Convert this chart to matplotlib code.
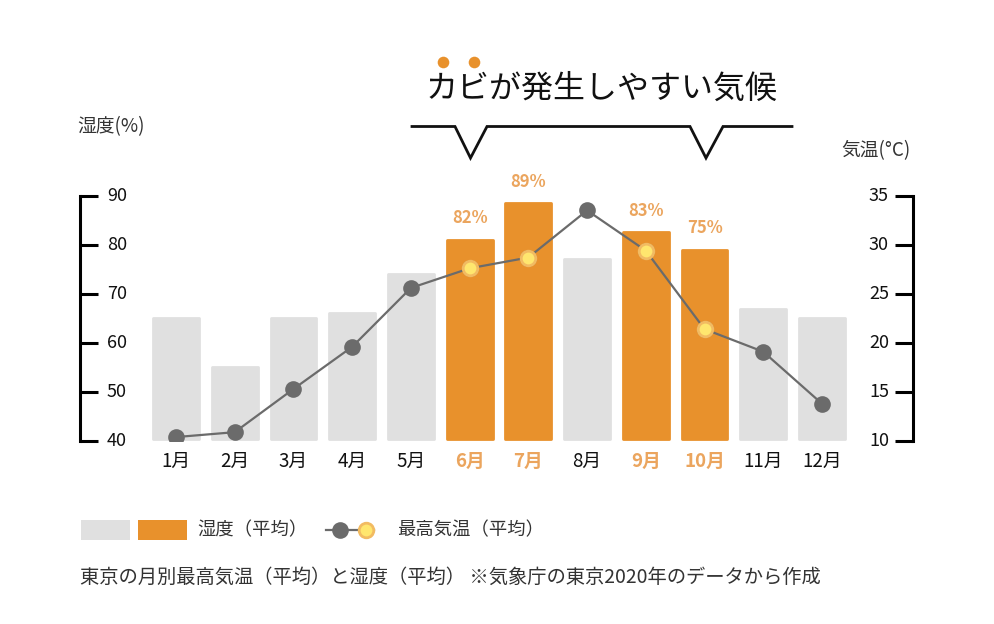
import matplotlib
matplotlib.use("Agg")
import matplotlib.pyplot as plt

plt.rcParams['font.family'] = ['Noto Sans CJK JP', 'DejaVu Sans']

# donnees
mois = ["1月", "2月", "3月", "4月", "5月", "6月", "7月", "8月", "9月", "10月", "11月", "12月"]
humidite = [65, 55, 65, 66, 74, 81, 88.5, 77, 82.5, 79, 67, 65]
temperature = [10.4, 10.9, 15.3, 19.6, 25.6, 27.6, 28.7, 33.5, 29.4, 21.4, 19.1, 13.8]
mois_kabi = [5, 6, 8, 9]
etiquettes_kabi = ["82%", "89%", "83%", "75%"]
ticks_humidite = [40, 50, 60, 70, 80, 90]
ticks_temperature = [10, 15, 20, 25, 30, 35]

GRIS = "#e0e0e0"
ORANGE = "#e8912c"
ORANGE_CLAIR = "#eba55e"
LIGNE = "#6b6b6b"
JAUNE = "#ffe66e"
TEXTE = "#333333"

fig = plt.figure(figsize=(9.94, 6.24), dpi=100)
W, H = 994, 624

ax = fig.add_axes([80 / W, (H - 441) / H, (913 - 80) / W, (441 - 195.7) / H])
ax.set_xlim(-1.635, 12.55)
ax.set_ylim(40, 90)
ax.patch.set_alpha(0)

x = list(range(len(mois)))
couleurs = [ORANGE if i in mois_kabi else GRIS for i in x]
ax.bar(x, [h - 40.4 for h in humidite], bottom=40.4, width=0.78, color=couleurs,
       edgecolor=couleurs, linewidth=2, joinstyle="round", zorder=1)

for spine in ["top", "right", "bottom"]:
    ax.spines[spine].set_visible(False)
ax.spines["left"].set_linewidth(2.2)
ax.set_xticks([])
ax.set_yticks(ticks_humidite)
ax.tick_params(axis="y", direction="in", length=13, width=2.2, labelleft=False)
for t in ticks_humidite:
    ax.text(-1.635 + (107 - 80) / 58.7, t, str(t), ha="left", va="center",
            fontsize=13, color="#111111")

# labels des mois
trans = ax.get_xaxis_transform()
for i, m in enumerate(mois):
    if i in mois_kabi:
        ax.text(i, -0.083, m, transform=trans, ha="center", va="center",
                fontsize=13.5, color=ORANGE_CLAIR, fontweight="bold")
    else:
        ax.text(i, -0.083, m, transform=trans, ha="center", va="center",
                fontsize=13.5, color="#111111")

for i, lab in zip(mois_kabi, etiquettes_kabi):
    ax.annotate(lab, (i, humidite[i]), xytext=(0, 9), textcoords="offset points",
                ha="center", va="bottom", fontsize=12, fontweight="bold", color=ORANGE_CLAIR)

# temperature
ax2 = ax.twinx()
ax2.set_ylim(10, 35)
for spine in ["top", "left", "bottom"]:
    ax2.spines[spine].set_visible(False)
ax2.spines["right"].set_linewidth(2.2)
ax2.set_yticks(ticks_temperature)
ax2.tick_params(axis="y", direction="in", length=13, width=2.2, labelright=False)
for t in ticks_temperature:
    ax2.text(12.55 - (913 - 889) / 58.7, t, str(t), ha="right", va="center",
             fontsize=13, color="#111111")

ax2.plot(x, temperature, color=LIGNE, linewidth=1.6, marker="o", markersize=12,
         markerfacecolor=LIGNE, markeredgewidth=0, zorder=3)
ax2.plot([x[i] for i in mois_kabi], [temperature[i] for i in mois_kabi], linestyle="none",
         marker="o", markersize=10.5, markerfacecolor=JAUNE, markeredgecolor="#f2bb62",
         markeredgewidth=2, zorder=4)

# decor
deco = fig.add_axes([0, 0, 1, 1], zorder=-1)
deco.set_xlim(0, W)
deco.set_ylim(H, 0)
deco.axis("off")

deco.text(602, 89, "カビが発生しやすい気候", ha="center", va="center", fontsize=23, color="#111111")
deco.scatter([443, 474], [62, 62], s=70, color=ORANGE, linewidths=0)
deco.plot([412, 455, 470.5, 487, 690, 706, 723, 792],
          [126.5, 126.5, 158, 126.5, 126.5, 158, 126.5, 126.5],
          color="#111111", linewidth=2, solid_joinstyle="miter")

deco.text(77, 127, "湿度(%)", ha="left", va="center", fontsize=13.5, color=TEXTE)
deco.text(911, 151, "気温(°C)", ha="right", va="center", fontsize=13.5, color=TEXTE)

# legende
deco.add_patch(plt.Rectangle((81, 520), 49, 19.5, color=GRIS, linewidth=0))
deco.add_patch(plt.Rectangle((137.5, 520), 49, 19.5, color=ORANGE, linewidth=0))
deco.text(197, 530, "湿度（平均）", ha="left", va="center", fontsize=13.2, color=TEXTE)
deco.plot([326, 374], [530, 530], color=LIGNE, linewidth=1.6)
deco.plot([340], [530], marker="o", markersize=12, color=LIGNE, markeredgewidth=0)
deco.plot([366], [530], marker="o", markersize=10.5, markerfacecolor=JAUNE,
          markeredgecolor="#f2bb62", markeredgewidth=2)
deco.text(397, 530, "最高気温（平均）", ha="left", va="center", fontsize=13.2, color=TEXTE)

deco.text(80, 577, "東京の月別最高気温（平均）と湿度（平均） ※気象庁の東京2020年のデータから作成",
          ha="left", va="center", fontsize=13.9, color=TEXTE)

fig.savefig("out.png", dpi=100)
